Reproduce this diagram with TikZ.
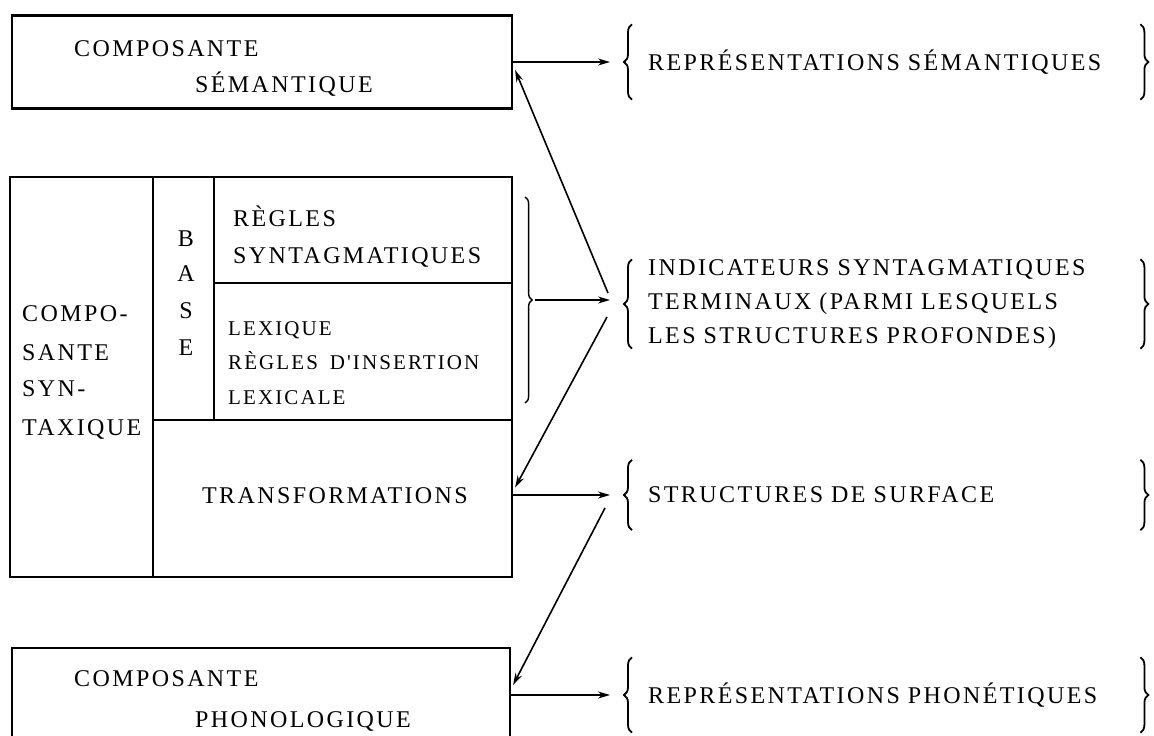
\documentclass[tikz,border=0pt]{standalone}
\usepackage{fontspec}
\newfontfamily\diagfont{Liberation Serif}[LetterSpace=10, WordSpace=1.6]
\usetikzlibrary{arrows.meta,decorations.pathreplacing,calc}
\tikzset{
  compbox/.style={draw, line width=2.2pt, inner sep=0pt},
  lbl/.style={font=\diagfont\fontsize{24}{37}\selectfont, inner sep=0pt},
  sml/.style={font=\diagfont\fontsize{21}{35}\selectfont, inner sep=0pt},
  outtxt/.style={font=\diagfont\fontsize{24}{34}\selectfont, inner xsep=16pt, inner ysep=0pt,
    text width=476pt, align=left, anchor=west},
  arr/.style={-{Stealth[length=12pt,width=7pt]}, line width=1.6pt},
  brc/.style={decorate, decoration={brace, amplitude=8pt}, line width=1.8pt}
}
\begin{document}
\begin{tikzpicture}[x=1pt, y=-1pt]
\clip (0,0) rectangle (1154,736);
\fill[white] (0,0) rectangle (1154,736);
\node[compbox, minimum width=500pt, minimum height=93pt] (sem) at (262,62) {};
\node[compbox, minimum width=143pt, minimum height=400pt] (synt) at (81.5,377) {};
\node[compbox, minimum width=61pt, minimum height=243pt] (base) at (183.5,298.5) {};
\node[compbox, minimum width=298pt, minimum height=106pt] (regles) at (363,230) {};
\node[compbox, minimum width=298pt, minimum height=137pt] (lexique) at (363,351.5) {};
\node[compbox, minimum width=359pt, minimum height=157pt] (transf) at (332.5,498.5) {};
\node[compbox, minimum width=498pt, minimum height=94pt] (phon) at (261,695) {};

\node[lbl, anchor=base west] (semA) at (74,56) {COMPOSANTE};
\node[lbl, anchor=base west] (semB) at (195,92) {SÉMANTIQUE};
\foreach \t/\y [count=\i] in {COMPO-/321, SANTE/360, SYN-/396, TAXIQUE/435}
  \node[lbl, anchor=base west] (syn\i) at (22,\y) {\t};
\foreach \t/\y [count=\i] in {B/246, A/281, S/318, E/355}
  \node[lbl, anchor=base] (base\i) at (186,\y) {\t};
\node[lbl, anchor=base west] (reg1) at (233,226) {RÈGLES};
\node[lbl, anchor=base west] (reg2) at (233,263) {SYNTAGMATIQUES};
\foreach \t/\y [count=\i] in {LEXIQUE/335, RÈGLES D'INSERTION/369, LEXICALE/404}
  \node[sml, anchor=base west] (lex\i) at (228,\y) {\t};
\node[lbl, anchor=base] (trA) at (335,503) {TRANSFORMATIONS};
\node[lbl, anchor=base west] (phA) at (74,686) {COMPOSANTE};
\node[lbl, anchor=base west] (phB) at (195,727) {PHONOLOGIQUE};

\node[outtxt, minimum height=75pt] (semout) at (632,62) {REPRÉSENTATIONS SÉMANTIQUES};
\node[outtxt, minimum height=80pt] (indout) at (632,304) {INDICATEURS SYNTAGMATIQUES\\
  TERMINAUX (PARMI LESQUELS\\ LES STRUCTURES PROFONDES)};
\node[outtxt, minimum height=70pt] (surfout) at (632,495) {STRUCTURES DE SURFACE};
\node[outtxt, minimum height=75pt] (phonout) at (632,695) {REPRÉSENTATIONS PHONÉTIQUES};
\foreach \n in {semout, indout, surfout, phonout} {
  \draw[brc] (\n.south west) -- (\n.north west);
  \draw[brc] (\n.north east) -- (\n.south east);
}

\coordinate (bt) at ([shift={(12,21)}]regles.north east);
\coordinate (bb) at ([shift={(12,-18)}]lexique.south east);
\draw[brc, decoration={amplitude=7pt}, line width=1.4pt] (bt) -- (bb);
\coordinate (btip) at ($(bt)!0.5!(bb)+(10,0)$);

\draw[arr] (sem.east) -- ([xshift=-22pt]semout.west);
\draw[arr] (btip) -- ([xshift=-22pt]indout.west |- btip);
\draw[arr] (transf.east |- surfout.west) -- ([xshift=-22pt]surfout.west);
\draw[arr] (phon.east) -- ([xshift=-22pt]phonout.west);
\draw[arr] ([shift={(-24,-11)}]indout.west) -- ([shift={(2,8)}]sem.east);
\draw[arr] ([shift={(-25,13)}]indout.west) -- ([shift={(2,-11)}]transf.east);
\draw[arr] ([shift={(-27,13)}]surfout.west) -- ([shift={(2,-10)}]phon.east);
\end{tikzpicture}
\end{document}
